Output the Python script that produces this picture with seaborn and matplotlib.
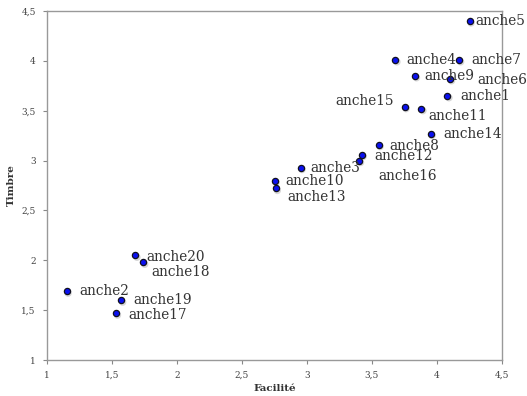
import matplotlib
matplotlib.use('Agg')
import matplotlib.pyplot as plt
import seaborn as sns
import pandas as pd

# données
labels = ['anche1', 'anche2', 'anche3', 'anche4', 'anche5', 'anche6', 'anche7',
          'anche8', 'anche9', 'anche10', 'anche11', 'anche12', 'anche13', 'anche14',
          'anche15', 'anche16', 'anche17', 'anche18', 'anche19', 'anche20']
facilite = [4.08, 1.15, 2.95, 3.68, 4.25, 4.10, 4.17,
            3.55, 3.83, 2.75, 3.88, 3.42, 2.76, 3.95,
            3.75, 3.40, 1.53, 1.74, 1.57, 1.68]
timbre = [3.65, 1.69, 2.93, 4.01, 4.40, 3.82, 4.01,
          3.16, 3.85, 2.80, 3.52, 3.06, 2.72, 3.27,
          3.54, 3.00, 1.47, 1.98, 1.60, 2.05]

df = pd.DataFrame({'Facilité': facilite, 'Timbre': timbre, 'label': labels})

# décalage des étiquettes (points), alignement horizontal
offsets = {
    'anche1': (9, 0, 'left'), 'anche2': (9, 0, 'left'), 'anche3': (7, 0, 'left'),
    'anche4': (8, 0, 'left'), 'anche5': (4, 0, 'left'), 'anche6': (20, -1, 'left'),
    'anche7': (9, 0, 'left'), 'anche8': (8, -1, 'left'), 'anche9': (7, 0, 'left'),
    'anche10': (8, 0, 'left'), 'anche11': (5, -5, 'left'), 'anche12': (9, -1, 'left'),
    'anche13': (8, -6, 'left'), 'anche14': (9, 0, 'left'), 'anche15': (-8, 4, 'right'),
    'anche16': (14, -11, 'left'), 'anche17': (9, -1, 'left'), 'anche18': (6, -7, 'left'),
    'anche19': (9, 0, 'left'), 'anche20': (8, -1, 'left'),
}

sns.set_style('white')
plt.rcParams['font.family'] = ['DejaVu Serif']

fig = plt.figure(figsize=(5.27, 3.96), dpi=100)
ax = fig.add_axes([47 / 527, 36 / 396, 455 / 527, 349 / 396])

# ombre des points
ax.scatter(df['Facilité'] + 0.012, df['Timbre'] - 0.02, s=28, color='#b0b0b0',
           alpha=0.5, edgecolor='none', zorder=2)
sns.scatterplot(data=df, x='Facilité', y='Timbre', ax=ax, s=20, color='#0a10f0',
                edgecolor='#101020', linewidth=0.9, zorder=3, legend=False)

for lab, x, y in zip(df['label'], df['Facilité'], df['Timbre']):
    dx, dy, ha = offsets[lab]
    ax.annotate(lab, (x, y), xytext=(dx, dy), textcoords='offset points',
                ha=ha, va='center', fontsize=9.8, color='#333333',
                family='DejaVu Serif', annotation_clip=False)

ax.set_xlim(1, 4.5)
ax.set_ylim(1, 4.5)
ticks = [1, 1.5, 2, 2.5, 3, 3.5, 4, 4.5]
ticklabels = ['1', '1,5', '2', '2,5', '3', '3,5', '4', '4,5']
ax.set_xticks(ticks)
ax.set_xticklabels(ticklabels)
ax.set_yticks(ticks)
ax.set_yticklabels(ticklabels)
ax.tick_params(axis='both', which='major', labelsize=6.5, length=3, width=0.8,
               color='#888888', labelcolor='#444444', direction='out',
               bottom=True, left=True, pad=5)
for s in ax.spines.values():
    s.set_color('#999999')
    s.set_linewidth(1.0)

ax.set_xlabel('Facilité', fontsize=7.5, fontweight='bold', color='#333333', labelpad=3)
ax.set_ylabel('Timbre', fontsize=7.5, fontweight='bold', color='#333333', labelpad=4)
ax.grid(False)

fig.savefig('out.png', dpi=100)
